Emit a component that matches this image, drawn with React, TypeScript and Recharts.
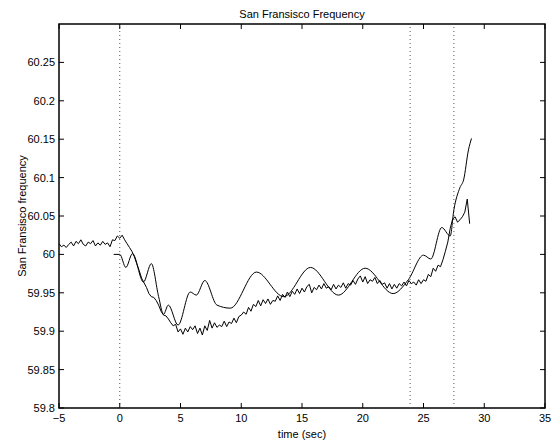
import { Line, LineChart, ReferenceArea, ReferenceLine, XAxis, YAxis } from 'recharts';

const FONT = '"Liberation Sans", Arial, Helvetica, sans-serif';

// measured bus frequency, one sample every 0.2 s from -5 s
const measuredStart = -5;
const measuredStep = 0.2;
const measuredFreq = [
  60.014, 60.010, 60.012, 60.009, 60.013, 60.016, 60.011, 60.017, 60.014, 60.019, 60.013, 60.011, 60.016,
  60.014, 60.018, 60.011, 60.015, 60.012, 60.017, 60.013, 60.015, 60.010, 60.019, 60.018, 60.024,
  60.021, 60.025, 60.019, 60.014, 60.009, 60.004, 59.997, 59.988, 59.979, 59.969, 59.963, 59.957, 59.949,
  59.945, 59.944, 59.940, 59.934, 59.926, 59.921, 59.920, 59.916, 59.911, 59.907, 59.909, 59.899,
  59.903, 59.896, 59.904, 59.899, 59.906, 59.902, 59.907, 59.897, 59.904, 59.895, 59.907, 59.901, 59.914,
  59.904, 59.911, 59.905, 59.908, 59.906, 59.913, 59.906, 59.912, 59.910, 59.917, 59.911, 59.919,
  59.921, 59.925, 59.922, 59.931, 59.926, 59.935, 59.932, 59.940, 59.933, 59.941, 59.936, 59.942, 59.935,
  59.940, 59.939, 59.946, 59.940, 59.948, 59.944, 59.951, 59.945, 59.952, 59.948, 59.955, 59.949,
  59.956, 59.951, 59.958, 59.961, 59.950, 59.957, 59.954, 59.960, 59.955, 59.962, 59.956, 59.958, 59.954,
  59.961, 59.955, 59.960, 59.957, 59.963, 59.956, 59.962, 59.960, 59.966, 59.961, 59.968, 59.972,
  59.964, 59.971, 59.962, 59.967, 59.965, 59.970, 59.962, 59.966, 59.961, 59.963, 59.956, 59.962, 59.955,
  59.961, 59.956, 59.962, 59.959, 59.964, 59.959, 59.966, 59.962, 59.964, 59.960, 59.967, 59.962,
  59.967, 59.965, 59.974, 59.971, 59.982, 59.978, 59.986, 59.984, 59.993, 60.004, 60.016, 60.034, 60.046,
  60.049, 60.042, 60.045, 60.049, 60.055, 60.072, 60.040,
];

// simulated response
const simTime = [
  -0.5, 0, 0.5, 1.05, 1.95, 2.6, 3.2, 3.6, 4.0, 4.8, 5.8, 6.3, 7.0, 8.0, 9.1, 11.25, 13.5, 15.7, 18.0,
  20.2, 22.5, 23.75, 25.0, 25.6, 26.5, 27.2, 27.5, 28.0, 28.3, 28.7, 28.95,
];
const simFreq = [
  60.0, 60.0, 59.983, 60.001, 59.964, 59.988, 59.945, 59.922, 59.934, 59.908, 59.951, 59.947, 59.966,
  59.934, 59.93, 59.977, 59.945, 59.983, 59.947, 59.982, 59.949, 59.967, 59.999, 59.994, 60.035, 60.024,
  60.058, 60.087, 60.097, 60.136, 60.151,
];

// switching events
const eventTimes = [0, 23.9, 27.5];

const timeTicks = [-5, 0, 5, 10, 15, 20, 25, 30, 35];
const freqTicks = [59.8, 59.85, 59.9, 59.95, 60, 60.05, 60.1, 60.15, 60.2, 60.25];

const measured = measuredFreq.map((f, i) => ({
  t: Number((measuredStart + i * measuredStep).toFixed(1)),
  f,
}));
const simulated = simTime.map((t, i) => ({ t, f: simFreq[i] }));

const TICK_LEN = 5;
const X_GAP = 6;
const Y_GAP = 4;
const textProps = { fontSize: 11, fontFamily: FONT, fill: '#000' };
const fmtTime = (v: number) => (v < 0 ? `\u2212${-v}` : String(v));

// ticks point into the plot, matlab style
function BottomTick({ x, y, payload }: any) {
  const axisY = y - X_GAP;
  return (
    <g>
      <line x1={x} x2={x} y1={axisY} y2={axisY - TICK_LEN} stroke="#000" />
      <text x={x} y={axisY + X_GAP} dy="0.71em" textAnchor="middle" {...textProps}>
        {fmtTime(payload.value)}
      </text>
    </g>
  );
}

function TopTick({ x, y }: any) {
  return <line x1={x} x2={x} y1={y} y2={y + TICK_LEN} stroke="#000" />;
}

function LeftTick({ x, y, payload }: any) {
  const axisX = x + Y_GAP;
  return (
    <g>
      <line x1={axisX} x2={axisX + TICK_LEN} y1={y} y2={y} stroke="#000" />
      <text x={x} y={y} dy="0.355em" textAnchor="end" {...textProps}>
        {String(payload.value)}
      </text>
    </g>
  );
}

function RightTick({ x, y }: any) {
  return <line x1={x} x2={x - TICK_LEN} y1={y} y2={y} stroke="#000" />;
}

export default function App() {
  return (
    <>
      <style>{'body{margin:0}'}</style>
      <LineChart width={557} height={440} margin={{ top: 23, right: 11, bottom: 0, left: 0 }}>
        <XAxis
          dataKey="t"
          type="number"
          domain={[-5, 35]}
          ticks={timeTicks}
          interval={0}
          allowDataOverflow
          height={32}
          tickSize={0}
          tickMargin={X_GAP}
          axisLine={false}
          tickLine={false}
          tick={<BottomTick />}
          label={{
            content: ({ viewBox }: any) => (
              <text x={viewBox.x + viewBox.width / 2} y={viewBox.y + 30} textAnchor="middle" {...textProps}>
                time (sec)
              </text>
            ),
          }}
        />
        <XAxis
          xAxisId="top"
          orientation="top"
          dataKey="t"
          type="number"
          domain={[-5, 35]}
          ticks={timeTicks}
          interval={0}
          allowDataOverflow
          height={1}
          tickSize={0}
          tickMargin={0}
          axisLine={false}
          tickLine={false}
          tick={<TopTick />}
          label={{
            content: ({ viewBox }: any) => (
              <text x={viewBox.x + viewBox.width / 2} y={viewBox.y - 5} textAnchor="middle" {...textProps}>
                San Fransisco Frequency
              </text>
            ),
          }}
        />
        <YAxis
          type="number"
          domain={[59.8, 60.3]}
          ticks={freqTicks}
          interval={0}
          allowDataOverflow
          width={59}
          tickSize={0}
          tickMargin={Y_GAP}
          axisLine={false}
          tickLine={false}
          tick={<LeftTick />}
          label={{
            content: ({ viewBox }: any) => {
              const x = viewBox.x + 26;
              const y = viewBox.y + viewBox.height / 2;
              return (
                <text x={x} y={y} transform={`rotate(-90 ${x} ${y})`} textAnchor="middle" {...textProps}>
                  San Fransisco frequency
                </text>
              );
            },
          }}
        />
        <YAxis
          yAxisId="right"
          orientation="right"
          type="number"
          domain={[59.8, 60.3]}
          ticks={freqTicks}
          interval={0}
          allowDataOverflow
          width={1}
          tickSize={0}
          tickMargin={0}
          axisLine={false}
          tickLine={false}
          tick={<RightTick />}
        />
        {/* closed frame round the plot area */}
        <ReferenceArea
          x1={-5}
          x2={35}
          y1={59.8}
          y2={60.3}
          fill="none"
          stroke="#000"
          strokeWidth={1.5}
          ifOverflow="visible"
        />
        {eventTimes.map((t) => (
          <ReferenceLine key={t} x={t} stroke="#555" strokeWidth={1} strokeDasharray="1 3" />
        ))}
        <Line
          data={measured}
          dataKey="f"
          type="linear"
          stroke="#000"
          strokeWidth={1}
          dot={false}
          activeDot={false}
          isAnimationActive={false}
        />
        <Line
          data={simulated}
          dataKey="f"
          type="monotone"
          stroke="#000"
          strokeWidth={1}
          dot={false}
          activeDot={false}
          isAnimationActive={false}
        />
      </LineChart>
    </>
  );
}
